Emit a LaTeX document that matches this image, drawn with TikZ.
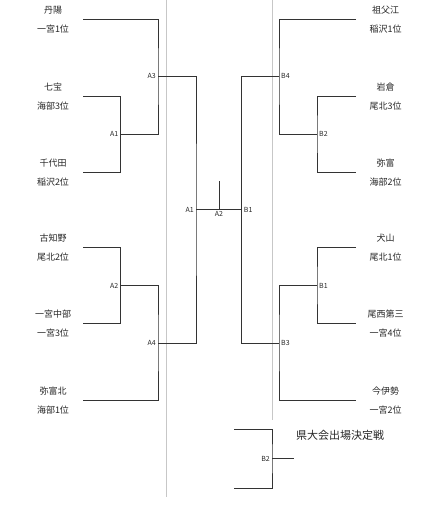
\documentclass[tikz,border=0pt]{standalone}
\usepackage{fontspec}
\setmainfont{Noto Sans CJK JP}
\usetikzlibrary{positioning,calc}

\begin{document}
\begin{tikzpicture}[x=1pt, y=-1pt, line join=miter,
  bracket/.style={draw=black!80, line width=0.8pt},
  guide/.style={draw=black!22, line width=0.7pt},
  team/.style={font=\fontsize{9}{19}\selectfont, text=black!85, align=center, inner sep=0pt},
  match/.style={font=\fontsize{7}{8}\selectfont, text=black!85, inner sep=2pt}]

\useasboundingbox (0,0) rectangle (420,516);

% guide lines
\coordinate (gl top) at (166,0);
\coordinate (gl bot) at (166,497);
\coordinate (gr top) at (272,0);
\coordinate (gr bot) at (272,420);
\draw[guide] (gl top) -- (gl bot);
\draw[guide] (gr top) -- (gr bot);

% left block
\node[team] (tanyo) at (53,19.5) {丹陽\\一宮1位};
\node[team] (shippo) at (53,96.5) {七宝\\海部3位};
\node[team] (chiyoda) at (53,172.5) {千代田\\稲沢2位};
\node[team] (kochino) at (53,247.5) {古知野\\尾北2位};
\node[team] (ichichu) at (53,323.5) {一宮中部\\一宮3位};
\node[team] (yatomikita) at (53,400.5) {弥富北\\海部1位};
\coordinate (l1) at (83,19);
\coordinate (l2) at (83,96);
\coordinate (l3) at (83,172);
\coordinate (l4) at (83,247);
\coordinate (l5) at (83,323);
\coordinate (l6) at (83,400);

% right block
\node[team] (sobue) at (385.5,19.5) {祖父江\\稲沢1位};
\node[team] (iwakura) at (385.5,96.5) {岩倉\\尾北3位};
\node[team] (yatomi) at (385.5,172.5) {弥富\\海部2位};
\node[team] (inuyama) at (385.5,247.5) {犬山\\尾北1位};
\node[team] (bisai) at (385.5,323.5) {尾西第三\\一宮4位};
\node[team] (imaise) at (385.5,400.5) {今伊勢\\一宮2位};
\coordinate (r1) at (356,19);
\coordinate (r2) at (356,96);
\coordinate (r3) at (356,172);
\coordinate (r4) at (356,247);
\coordinate (r5) at (356,323);
\coordinate (r6) at (356,400);

% match points
\coordinate (mA1) at (120.5,134);
\coordinate (mA2) at (120.5,285.5);
\coordinate (mA3) at (158,76);
\coordinate (mA4) at (158,343);
\coordinate (cA) at (196,209.5);
\coordinate (fin) at (219,209.5);
\coordinate (fin top) at (219,181);
\coordinate (cB) at (241.7,209.5);
\coordinate (mB4) at (279,76);
\coordinate (mB3) at (279,343);
\coordinate (mB2) at (317,134);
\coordinate (mB1) at (317,285.5);

\node[match, anchor=east] (lab A1) at (mA1) {A1};
\node[match, anchor=east] (lab A2) at (mA2) {A2};
\node[match, anchor=east] (lab A3) at (mA3) {A3};
\node[match, anchor=east] (lab A4) at (mA4) {A4};
\node[match, anchor=east] (lab cA) at (cA) {A1};
\node[match, anchor=north] (lab fin) at (fin) {A2};
\node[match, anchor=west] (lab cB) at (cB) {B1};
\node[match, anchor=west] (lab B4) at (mB4) {B4};
\node[match, anchor=west] (lab B3) at (mB3) {B3};
\node[match, anchor=west] (lab B2) at (mB2) {B2};
\node[match, anchor=west] (lab B1) at (mB1) {B1};

% brackets
\draw[bracket] (l2) -| (mA1) |- (l3);
\draw[bracket] (l4) -| (mA2) |- (l5);
\draw[bracket] (l1) -| (mA3) |- (mA1);
\draw[bracket] (mA2) -| (mA4) |- (l6);
\draw[bracket] (mA3) -| (cA) |- (mA4);
\draw[bracket] (cA) -- (cB);
\draw[bracket] (fin top) -- (fin);
\draw[bracket] (mB4) -| (cB) |- (mB3);
\draw[bracket] (r1) -| (mB4) |- (mB2);
\draw[bracket] (r2) -| (mB2) |- (r3);
\draw[bracket] (r4) -| (mB1) |- (r5);
\draw[bracket] (mB1) -| (mB3) |- (r6);

% play-off
\node[font=\fontsize{11}{13}\selectfont, text=black!85] (playoff) at (340,435) {県大会出場決定戦};
\coordinate (p top) at (234,429);
\coordinate (p bot) at (234,488);
\coordinate (mP) at (272,458.5);
\coordinate (p out) at (294,458.5);
\node[match, anchor=east] (lab P) at (mP) {B2};
\draw[bracket] (p top) -| (mP) |- (p bot);
\draw[bracket] (mP) -- (p out);

\end{tikzpicture}
\end{document}
